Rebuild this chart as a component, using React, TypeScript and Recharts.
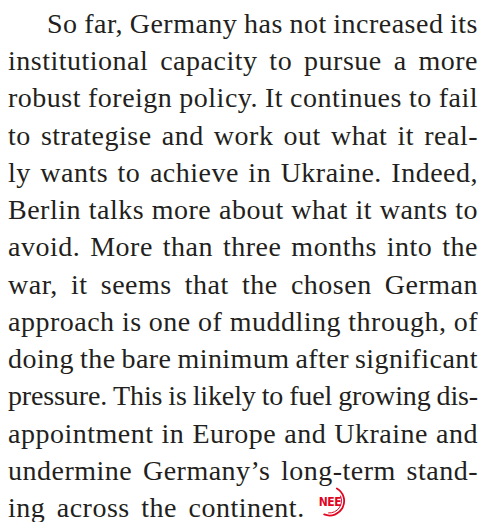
import React from "react";
import { ScatterChart, Scatter, XAxis, YAxis } from "recharts";

const lines = [
  "So far, Germany has not increased its",
  "institutional capacity to pursue a more",
  "robust foreign policy. It continues to fail",
  "to strategise and work out what it real-",
  "ly wants to achieve in Ukraine. Indeed,",
  "Berlin talks more about what it wants to",
  "avoid. More than three months into the",
  "war, it seems that the chosen German",
  "approach is one of muddling through, of",
  "doing the bare minimum after significant",
  "pressure. This is likely to fuel growing dis-",
  "appointment in Europe and Ukraine and",
  "undermine Germany\u2019s long-term stand-",
  "ing across the continent.",
];
const logoText = "NEE";

const lastRow = lines.length - 1;
const rows = lines.map((text, i) => ({ col: 0, row: i, text }));

const FONT_SIZE = 28;
const LETTER = 0.5;
const MIN_GAP = 6;
const FONT_FAMILY = "'Liberation Serif', 'Times New Roman', serif";
const COLUMN = 470;
const INDENT = 39;
const RED = "#e0061f";

let ctx: CanvasRenderingContext2D | null = null;
function measure(s: string, ls: number) {
  if (!ctx) ctx = document.createElement("canvas").getContext("2d");
  ctx!.font = `${FONT_SIZE}px ${FONT_FAMILY}`;
  return ctx!.measureText(s).width + s.length * ls;
}

function arc(cx: number, cy: number, r: number, a0: number, a1: number) {
  const p = (a: number) => [cx + r * Math.cos((a * Math.PI) / 180), cy + r * Math.sin((a * Math.PI) / 180)];
  const [x0, y0] = p(a0);
  const [x1, y1] = p(a1);
  return `M${x0},${y0} A${r},${r} 0 0 1 ${x1},${y1}`;
}

function Logo({ x, y }: { x: number; y: number }) {
  const cx = x + 11;
  const cy = y - 5;
  return (
    <g>
      <text x={x} y={y} fill={RED} fontSize={12} fontWeight="bold" fontFamily="'DejaVu Sans Condensed', 'Liberation Sans', sans-serif" letterSpacing={-0.4}>
        {logoText}
      </text>
      <path d={arc(cx, cy, 14.5, -60, 112)} fill="none" stroke={RED} strokeWidth={1.8} strokeLinecap="round" />
      <path d={arc(cx, cy, 12, -25, 95)} fill="none" stroke={RED} strokeWidth={1} strokeLinecap="round" />
    </g>
  );
}

function LineShape(props: any) {
  const { cx, cy, payload } = props;
  const indent = payload.row === 0 ? INDENT : 0;
  const words: string[] = payload.text.split(" ");
  const isLast = payload.row === lastRow;
  const chars = words.join("").length;
  let ls = LETTER;
  let widths = words.map((w) => measure(w, ls));
  let natural = widths.reduce((a, b) => a + b, 0);
  let gap = (COLUMN - indent - natural) / (words.length - 1);
  if (!isLast && gap < MIN_GAP) {
    // tighten letters on crowded lines, as the typesetter did
    ls -= ((MIN_GAP - gap) * (words.length - 1)) / chars;
    widths = words.map((w) => measure(w, ls));
    natural = widths.reduce((a, b) => a + b, 0);
    gap = (COLUMN - indent - natural) / (words.length - 1);
  }
  if (isLast) gap = measure(" ", ls) + 4;
  let pos = cx + indent;
  const xs = widths.map((w) => {
    const at = pos;
    pos += w + gap;
    return at;
  });
  const end = xs[xs.length - 1] + widths[widths.length - 1];
  return (
    <g>
      <text y={cy} fill="#231f20" fontSize={FONT_SIZE} fontFamily={FONT_FAMILY} letterSpacing={ls}>
        {words.map((w, k) => (
          <tspan key={k} x={xs[k]}>
            {w}
          </tspan>
        ))}
      </text>
      {isLast && <Logo x={end + 14} y={cy - 11} />}
    </g>
  );
}

export default function App() {
  return (
    <div style={{ position: "absolute", top: 0, left: 0, background: "#fff" }}>
      <ScatterChart width={485} height={522} margin={{ top: 33, right: 7, bottom: 5, left: 8 }}>
        <XAxis type="number" dataKey="col" domain={[0, 1]} hide />
        <YAxis type="number" dataKey="row" domain={[0, lastRow]} reversed hide width={0} />
        <Scatter data={rows} shape={<LineShape />} isAnimationActive={false} />
      </ScatterChart>
    </div>
  );
}
